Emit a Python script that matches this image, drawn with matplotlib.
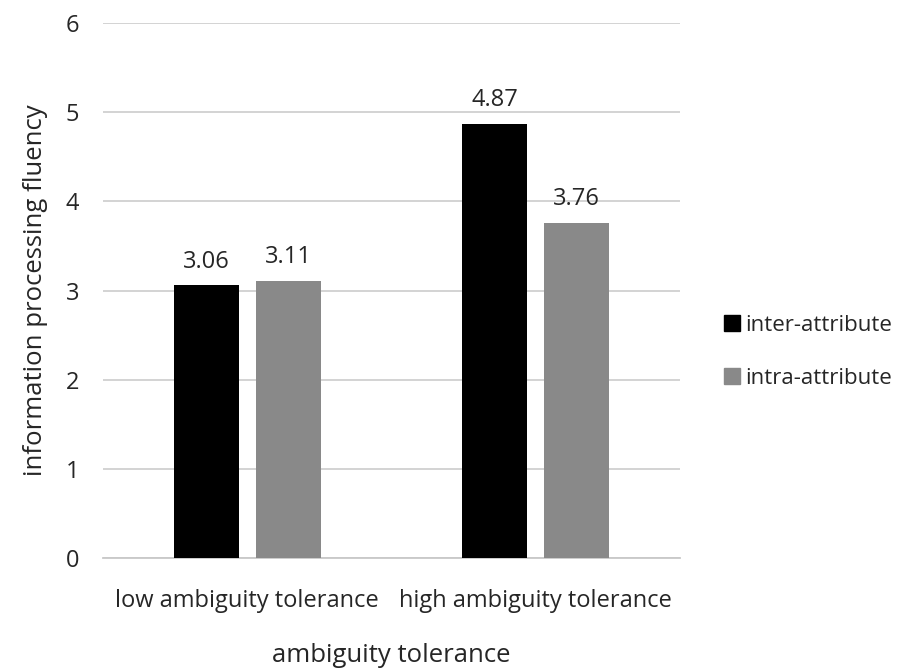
import matplotlib
matplotlib.use("Agg")
import matplotlib.pyplot as plt
from matplotlib.lines import Line2D
import numpy as np

categories = ["low ambiguity tolerance", "high ambiguity tolerance"]
inter_attribute = [3.06, 4.87]
intra_attribute = [3.11, 3.76]
series_names = ["inter-attribute", "intra-attribute"]
colors = ["#000000", "#898989"]

plt.rcParams['font.family'] = ['Open Sans', 'DejaVu Sans']

fig = plt.figure(figsize=(9.12, 6.72), dpi=100)
ax = fig.add_axes([0.113, 0.1696, 0.6326, 0.7962])

x = np.arange(len(categories))
w = 0.225
off = 0.142
b1 = ax.bar(x - off, inter_attribute, w, color=colors[0], zorder=3)
b2 = ax.bar(x + off, intra_attribute, w, color=colors[1], zorder=3)

fs = 17
tc = "#262626"
for bars, vals in [(b1, inter_attribute), (b2, intra_attribute)]:
    for r, v in zip(bars, vals):
        ax.text(r.get_x() + r.get_width() / 2, v + 0.13, f"{v:.2f}",
                ha="center", va="bottom", fontsize=fs, color=tc)

ax.set_xlim(-0.5, 1.5)
ax.set_ylim(0, 6)
ax.set_yticks(range(0, 7))
ax.yaxis.grid(True, color="#d0d0d0", linewidth=1.3, zorder=0)
ax.set_axisbelow(True)
for s in ["top", "right", "left"]:
    ax.spines[s].set_visible(False)
ax.spines["bottom"].set_color("#c8c8c8")
ax.spines["bottom"].set_linewidth(1.3)
ax.tick_params(axis="both", length=0, labelsize=fs, colors=tc)
ax.tick_params(axis="y", pad=17)
ax.tick_params(axis="x", pad=22)
ax.set_xticks(x)
ax.set_xticklabels(categories)
ax.set_ylabel("information processing fluency", fontsize=18.5, color=tc, labelpad=13)
ax.set_xlabel("ambiguity tolerance", fontsize=18.5, color=tc, labelpad=22)

handles = [Line2D([0], [0], marker="s", linestyle="", markersize=12,
                  markerfacecolor=c, markeredgecolor=c) for c in colors]
fig.legend(handles, series_names, loc="center left", bbox_to_anchor=(0.771, 0.476),
           frameon=False, fontsize=16, handlelength=0.8, handletextpad=0.2,
           labelspacing=1.45, labelcolor=tc)

fig.savefig("out.png", dpi=100)
